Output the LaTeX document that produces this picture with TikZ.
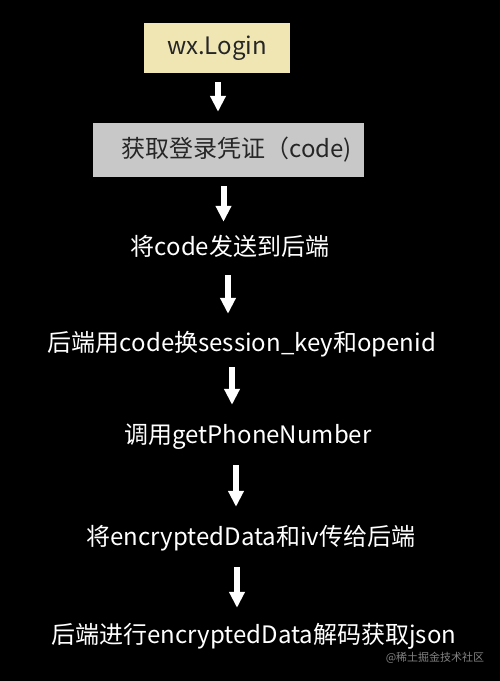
\documentclass[tikz,border=0pt]{standalone}
\usepackage{fontspec}
\setmainfont{Noto Sans CJK SC}
\usetikzlibrary{arrows.meta}
\definecolor{loginfill}{RGB}{240,230,180}
\definecolor{codefill}{RGB}{200,200,200}
\definecolor{wmgray}{RGB}{130,130,130}
\begin{document}
\begin{tikzpicture}[x=1pt,y=-1pt]

      \fill[black] (0,0) rectangle (500,681);
      \useasboundingbox (0,0) rectangle (500,681);

      \begin{scope}[every node/.style={inner sep=0pt,text=black!85,font=\fontsize{24}{28}\selectfont}]
        \node[fill=loginfill,minimum width=146pt,minimum height=50pt] (login) at (217,48) {wx.Login};
        \node[fill=codefill,minimum height=54pt,text width=247pt,align=right,inner xsep=12pt] (code) at (228.5,150) {获取登录凭证（code)};
      \end{scope}

      \begin{scope}[every node/.style={inner sep=0pt,text=white,text height=20pt,text depth=3pt,font=\fontsize{24}{28}\selectfont}]
        \node (send)    at (230,247) {将code发送到后端};
        \node (session) at (242,343) {后端用code换session\_key和openid};
        \node (phone)   at (248,435) {调用getPhoneNumber};
        \node (pass)    at (251,537) {将encryptedData和iv传给后端};
        \node (decode)  at (254,635) {后端进行encryptedData解码获取json};
      \end{scope}

      \node[text=wmgray,inner sep=0pt,font=\fontsize{11}{13}\selectfont] (wm) at (435,658) {@稀土掘金技术社区};

      \begin{scope}[every edge/.style={draw=white,line width=6pt,-{Triangle[length=16pt,width=15pt]}}]
        \path ([xshift=1pt]login.south)    edge[shorten <=9pt,shorten >=11pt]   ([xshift=1pt]login.south |- code.north);
        \path ([xshift=-5pt]code.south)    edge[shorten <=9pt,shorten >=13.5pt] ([xshift=-5pt]code.south |- send.north);
        \path ([xshift=-2pt]send.south)    edge[shorten <=16.5pt,shorten >=17.5pt] ([xshift=-2pt]send.south |- session.north);
        \path ([xshift=-10pt]session.south) edge[shorten <=12.5pt,shorten >=18.5pt] ([xshift=-10pt]session.south |- phone.north);
        \path ([xshift=-12pt]phone.south)  edge[shorten <=18.5pt,shorten >=18.5pt] ([xshift=-12pt]phone.south |- pass.north);
        \path ([xshift=-14pt]pass.south)   edge[shorten <=18.5pt,shorten >=15.5pt] ([xshift=-14pt]pass.south |- decode.north);
      \end{scope}

    \end{tikzpicture}
\end{document}
